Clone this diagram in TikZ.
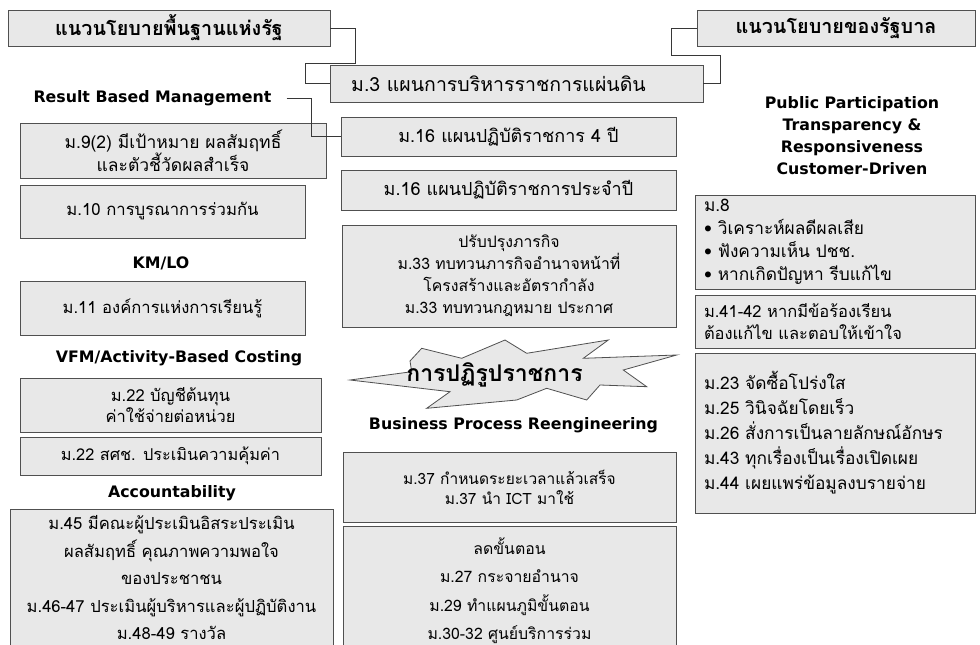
\documentclass[tikz,border=0pt]{standalone}
\usepackage{fontspec}
\setmainfont[Script=Thai]{Loma}
\newfontfamily\headfont{DejaVu Sans}
\usetikzlibrary{shadows}
\definecolor{boxfill}{RGB}{232,232,232}
\definecolor{boxline}{RGB}{80,80,80}
\definecolor{lnk}{RGB}{55,55,55}
\begin{document}
\begin{tikzpicture}[x=1pt,y=-1pt,
  box/.style={draw=boxline, line width=0.8pt, fill=boxfill, inner sep=0pt, align=center,
    drop shadow={shadow xshift=1.3pt, shadow yshift=-1.3pt, fill=black!55, opacity=1}},
  fs/.style 2 args={font=\fontsize{#1}{#2}\selectfont},
  title/.style={font=\bfseries\fontsize{19.8}{22}\selectfont},
  head/.style={font=\headfont\bfseries\fontsize{15.8}{22}\selectfont, inner sep=0pt, align=center},
  link/.style={draw=lnk, line width=0.9pt},
  burst/.style={draw=boxline, line width=0.8pt, fill=boxfill, line join=miter}
]
\clip (0,0) rectangle (980,645);
\fill[white] (0,0) rectangle (980,645);

% top row
\node[box, title, minimum width=322pt, minimum height=36pt] (topL) at (169,28) {แนวนโยบายพื้นฐานแห่งรัฐ};
\node[box, title, minimum width=278pt, minimum height=36pt] (topR) at (836,28) {แนวนโยบายของรัฐบาล};
\node[box, fs={19.5}{22}, minimum width=373pt, minimum height=37pt] (m3) at (516.5,83.5) {ม.3 แผนการบริหารราชการแผ่นดิน\hspace*{36pt}};

% left column
\node[head] (rbm) at (152.5,98) {Result Based Management};
\node[box, fs={17.5}{20}, minimum width=306pt, minimum height=55pt] (m9) at (173,150.5) {ม.9(2) มีเป้าหมาย ผลสัมฤทธิ์\\และตัวชี้วัดผลสำเร็จ};
\node[box, fs={16.7}{21}, minimum width=285pt, minimum height=53pt] (m10) at (162.5,211.5) {ม.10 การบูรณาการร่วมกัน};
\node[head] (kmlo) at (161,263) {KM/LO};
\node[box, fs={16.6}{21}, minimum width=285pt, minimum height=54pt] (m11) at (162.5,308) {ม.11 องค์การแห่งการเรียนรู้};
\node[head] (vfm) at (179,358) {VFM/Activity-Based Costing};
\node[box, fs={16.5}{21}, minimum width=301pt, minimum height=54pt] (m22a) at (170.5,405) {ม.22 บัญชีต้นทุน\\ค่าใช้จ่ายต่อหน่วย};
\node[box, fs={16.3}{21}, minimum width=301pt, minimum height=38pt] (m22b) at (170.5,456) {ม.22 สศช. ประเมินความคุ้มค่า};
\node[head] (acc) at (172,493) {Accountability};
\node[box, fs={16.6}{27.5}, minimum width=323pt, minimum height=138pt] (m45) at (171.5,578) {ม.45 มีคณะผู้ประเมินอิสระประเมิน\\ผลสัมฤทธิ์ คุณภาพความพอใจ\\ของประชาชน\\ม.46-47 ประเมินผู้บริหารและผู้ปฏิบัติงาน\\ม.48-49 รางวัล};

% middle column
\node[box, fs={18}{20}, minimum width=335pt, minimum height=39pt] (m16a) at (508.5,136.5) {ม.16 แผนปฏิบัติราชการ 4 ปี};
\node[box, fs={18}{20}, minimum width=335pt, minimum height=40pt] (m16b) at (508.5,190) {ม.16 แผนปฏิบัติราชการประจำปี};
\node[box, fs={15.8}{22}, minimum width=334pt, minimum height=102pt] (m33) at (509,276) {ปรับปรุงภารกิจ\\ม.33 ทบทวนภารกิจอำนาจหน้าที่\\โครงสร้างและอัตรากำลัง\\ม.33 ทบทวนกฎหมาย ประกาศ};
\draw[burst] (421.7,348.3) -- (461.7,358.3) -- (505,340) -- (526.7,353.3) -- (608.3,340) -- (583.3,358.3)
  -- (676.7,355) -- (623.3,370) -- (646.7,386.7) -- (600,385) -- (586.7,400) -- (546.7,388.3)
  -- (516.7,400) -- (426.7,408.3) -- (450,391.7) -- (350,380) -- (411.7,371.7) -- (410,361) -- cycle;
\node[font=\bfseries\fontsize{23}{26}\selectfont, inner sep=0pt] (reform) at (494.5,375) {การปฏิรูปราชการ};
\node[head] (bpr) at (513.5,425) {Business Process Reengineering};
\node[box, fs={15.5}{20}, minimum width=333pt, minimum height=70pt] (m37) at (509.5,487) {ม.37 กำหนดระยะเวลาแล้วเสร็จ\\ม.37 นำ ICT มาใช้};
\node[box, fs={15.8}{28.5}, minimum width=333pt, minimum height=129pt] (lad) at (509.5,590.5) {ลดขั้นตอน\\ม.27 กระจายอำนาจ\\ม.29 ทำแผนภูมิขั้นตอน\\ม.30-32 ศูนย์บริการร่วม};

% right column
\node[head] (ppt) at (852,135.5) {Public Participation\\Transparency \&\\Responsiveness\\Customer-Driven};
\node[box, fs={17.3}{23}, minimum width=280pt, minimum height=94pt, text width=262pt, align=left] (m8) at (835,242) {ม.8\\• วิเคราะห์ผลดีผลเสีย\\• ฟังความเห็น ปชช.\\• หากเกิดปัญหา รีบแก้ไข};
\node[box, fs={16.5}{22}, minimum width=280pt, minimum height=53pt, text width=262pt, align=left] (m41) at (835,321.5) {ม.41-42 หากมีข้อร้องเรียน\\ต้องแก้ไข และตอบให้เข้าใจ};
\node[box, fs={17.3}{25}, minimum width=280pt, minimum height=160pt, text width=262pt, align=left] (m23) at (835,433) {ม.23 จัดซื้อโปร่งใส\\ม.25 วินิจฉัยโดยเร็ว\\ม.26 สั่งการเป็นลายลักษณ์อักษร\\ม.43 ทุกเรื่องเป็นเรื่องเปิดเผย\\ม.44 เผยแพร่ข้อมูลงบรายจ่าย};

% connectors
\draw[link] (topL.east) -- ++(25,0) |- (305,63) |- (m3.west);
\draw[link] (topR.west) -- ++(-25,0) |- (720,55) |- (m3.east);
\draw[link] ([xshift=15pt]rbm.east) -| (311,136.5) -- (m16a.west);
\end{tikzpicture}
\end{document}
